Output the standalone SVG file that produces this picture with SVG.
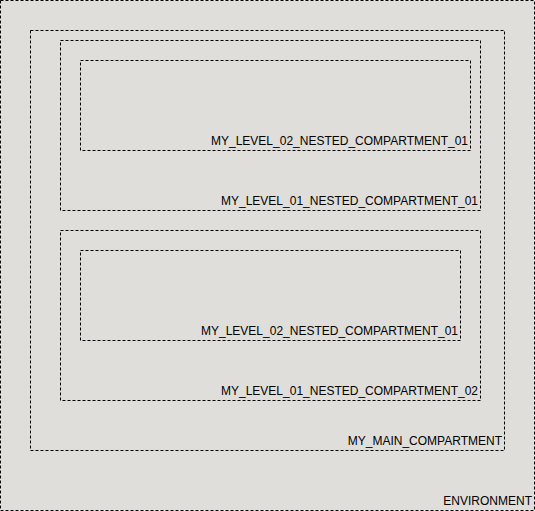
<svg xmlns="http://www.w3.org/2000/svg" width="535" height="511" viewBox="0 0 535 511">
<style>
.box{fill:#dfdedb;stroke:#000;stroke-width:1;stroke-dasharray:3,2}
.in{fill:none;stroke:#000;stroke-width:1;stroke-dasharray:3,2}
.lbl{font-family:"Liberation Sans",Arial,sans-serif;font-size:12px;fill:#000;text-anchor:end}
</style>
<g id="ENVIRONMENT">
<rect class="box" x="0.5" y="0.5" width="534" height="510"/>
<text class="lbl" x="532" y="505">ENVIRONMENT</text>
</g>
<g id="MY_MAIN_COMPARTMENT">
<rect class="in" x="30.5" y="30.5" width="474" height="420"/>
<text class="lbl" x="502" y="445">MY_MAIN_COMPARTMENT</text>
</g>
<g id="MY_LEVEL_01_NESTED_COMPARTMENT_01">
<rect class="in" x="60.5" y="40.5" width="420" height="170"/>
<text class="lbl" x="478" y="205">MY_LEVEL_01_NESTED_COMPARTMENT_01</text>
</g>
<g id="MY_LEVEL_02_NESTED_COMPARTMENT_01_a">
<rect class="in" x="80.5" y="60.5" width="390" height="90"/>
<text class="lbl" x="468" y="145">MY_LEVEL_02_NESTED_COMPARTMENT_01</text>
</g>
<g id="MY_LEVEL_01_NESTED_COMPARTMENT_02">
<rect class="in" x="60.5" y="230.5" width="420" height="170"/>
<text class="lbl" x="478" y="395">MY_LEVEL_01_NESTED_COMPARTMENT_02</text>
</g>
<g id="MY_LEVEL_02_NESTED_COMPARTMENT_01_b">
<rect class="in" x="80.5" y="250.5" width="380" height="90"/>
<text class="lbl" x="458" y="335">MY_LEVEL_02_NESTED_COMPARTMENT_01</text>
</g>
<g id="connectors"></g>
</svg>
